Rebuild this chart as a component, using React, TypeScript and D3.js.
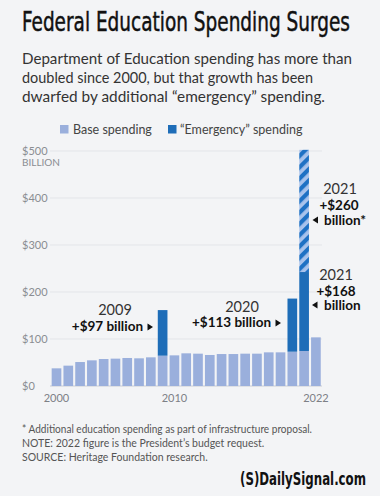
import React from "react";
import * as d3 from "d3";

const years = d3.range(2000, 2023).map(String);
const baseSpending = [37.6, 43.3, 51, 54.6, 57.4, 58.2, 59.6, 58.9, 61, 64.5, 65.2, 69.5, 68.8, 66, 68, 68, 68.8, 68.8, 71.6, 71.6, 73, 74.5, 103.5];
const emergencyYears = ["2009", "2020", "2021"];
const emergencyValues = [97, 113, 168];
const infraYears = ["2021"];
const infraValues = [260];
const yTickValues = [0, 100, 200, 300, 400, 500];
const yTickLabels = ["$0", "$100", "$200", "$300", "$400", "$500"];
const xTickYears = ["2000", "2010", "2022"];

const W = 380, H = 496;
const SANS = "Lato, 'Open Sans', sans-serif";
const COND = "'DejaVu Sans Condensed', 'Liberation Sans Narrow', sans-serif";

export default function App() {
  const x = d3.scaleBand<string>().domain(years).range([50.6, 321.8]).paddingInner(0.18).paddingOuter(0.09);
  const y = d3.scaleLinear().domain([0, 500]).range([386, 151]);
  const baseOf = (yr: string) => baseSpending[years.indexOf(yr)];
  const emOf = (yr: string) => emergencyValues[emergencyYears.indexOf(yr)] || 0;

  const tri = (cx: number, cy: number, dir: number) =>
    `M${cx - 2.5 * dir},${cy - 3.5} L${cx + 3 * dir},${cy} L${cx - 2.5 * dir},${cy + 3.5} Z`;

  return (
    <svg width={W} height={H} style={{ position: "absolute", left: 0, top: 0 }}>
      <defs>
        <pattern id="hatch" patternUnits="userSpaceOnUse" width="8" height="8" patternTransform="rotate(45)">
          <rect width="8" height="8" fill="#a9c3ec" />
          <rect width="4.2" height="8" fill="#1f71c4" />
        </pattern>
      </defs>
      <rect width={W} height={H} fill="#f3f4f6" />
      <text x={22} y={31} fontFamily={COND} fontSize={26.5} fill="#111" stroke="#111" strokeWidth={0.45}
        textLength={328} lengthAdjust="spacingAndGlyphs">
        Federal Education Spending Surges
      </text>
      {["Department of Education spending has more than",
        "doubled since 2000, but that growth has been",
        "dwarfed by additional \u201Cemergency\u201D spending."].map((t, i) => (
        <text key={i} x={22} y={64 + i * 19} fontFamily={SANS} fontSize={16} fill="#333"
          textLength={[330, 291, 303][i]} lengthAdjust="spacingAndGlyphs">{t}</text>
      ))}

      {/* legend */}
      <rect x={60} y={125} width={8.5} height={8.5} fill="#9aafdc" />
      <text x={73} y={134} fontFamily={SANS} fontSize={12.5} fill="#444">Base spending</text>
      <rect x={168} y={125} width={8.5} height={8.5} fill="#1e6db8" />
      <text x={180} y={134} fontFamily={SANS} fontSize={12.5} fill="#444">{"\u201CEmergency\u201D spending"}</text>

      {/* gridlines & y labels */}
      {yTickValues.map((v, i) => (
        <g key={v}>
          <line x1={50} x2={322} y1={y(v)} y2={y(v)} stroke={v === 0 ? "#c9ccd2" : "#e3e5e9"} strokeWidth={1} />
          <text x={22} y={y(v) + 4} fontFamily={SANS} fontSize={11} fill="#8a8d92">{yTickLabels[i]}</text>
        </g>
      ))}
      <text x={22} y={166} fontFamily={SANS} fontSize={10} fill="#8a8d92">BILLION</text>

      {/* bars */}
      {years.map((yr, i) => (
        <rect key={"b" + yr} x={x(yr)} y={y(baseSpending[i])} width={x.bandwidth()} height={y(0) - y(baseSpending[i])} fill="#9aafdc" />
      ))}
      {emergencyYears.map((yr, i) => (
        <rect key={"e" + yr} x={x(yr)} y={y(baseOf(yr) + emergencyValues[i])} width={x.bandwidth()}
          height={y(baseOf(yr)) - y(baseOf(yr) + emergencyValues[i])} fill="#1e6db8" />
      ))}
      {infraYears.map((yr, i) => {
        const b = baseOf(yr) + emOf(yr);
        return <rect key={"i" + yr} x={x(yr)} y={y(b + infraValues[i])} width={x.bandwidth()}
          height={y(b) - y(b + infraValues[i])} fill="url(#hatch)" />;
      })}

      {/* x labels */}
      {xTickYears.map((yr) => (
        <text key={yr} x={(x(yr) || 0) + x.bandwidth() / 2} y={402} textAnchor="middle" fontFamily={SANS} fontSize={11} fill="#7d8086">{yr}</text>
      ))}

      {/* annotations */}
      <text x={115} y={315} textAnchor="middle" fontFamily={SANS} fontSize={14.5} fill="#333">2009</text>
      <text x={143} y={331} textAnchor="end" fontFamily={SANS} fontSize={13.5} fontWeight="bold" fill="#111">+$97 billion</text>
      <path d={tri(150, 327, 1)} fill="#111" />

      <text x={242} y={312} textAnchor="middle" fontFamily={SANS} fontSize={14.5} fill="#333">2020</text>
      <text x={271} y={327} textAnchor="end" fontFamily={SANS} fontSize={13.5} fontWeight="bold" fill="#111">+$113 billion</text>
      <path d={tri(278, 323, 1)} fill="#111" />

      <text x={336} y={280} textAnchor="middle" fontFamily={SANS} fontSize={14.5} fill="#333">2021</text>
      <text x={336} y={296} textAnchor="middle" fontFamily={SANS} fontSize={13.5} fontWeight="bold" fill="#111">+$168</text>
      <path d={tri(315, 305, -1)} fill="#111" />
      <text x={324} y={310} fontFamily={SANS} fontSize={13.5} fontWeight="bold" fill="#111">billion</text>

      <text x={340} y={194} textAnchor="middle" fontFamily={SANS} fontSize={14.5} fill="#333">2021</text>
      <text x={339} y={210} textAnchor="middle" fontFamily={SANS} fontSize={13.5} fontWeight="bold" fill="#111">+$260</text>
      <path d={tri(315.5, 220, -1)} fill="#111" />
      <text x={324} y={225} fontFamily={SANS} fontSize={13.5} fontWeight="bold" fill="#111">billion*</text>

      {/* footer */}
      <text x={22} y={433} fontFamily={SANS} fontSize={10.5} fill="#555" textLength={290} lengthAdjust="spacingAndGlyphs">* Additional education spending as part of infrastructure proposal.</text>
      <text x={22} y={447} fontFamily={SANS} fontSize={10.5} fill="#555">NOTE: 2022 figure is the President’s budget request.</text>
      <text x={22} y={461} fontFamily={SANS} fontSize={10.5} fill="#555">SOURCE: Heritage Foundation research.</text>

      <text x={240} y={485} fontFamily={COND} fontSize={18} fontWeight="bold" fill="#111" textLength={126} lengthAdjust="spacingAndGlyphs">(S)DailySignal.com</text>
    </svg>
  );
}
